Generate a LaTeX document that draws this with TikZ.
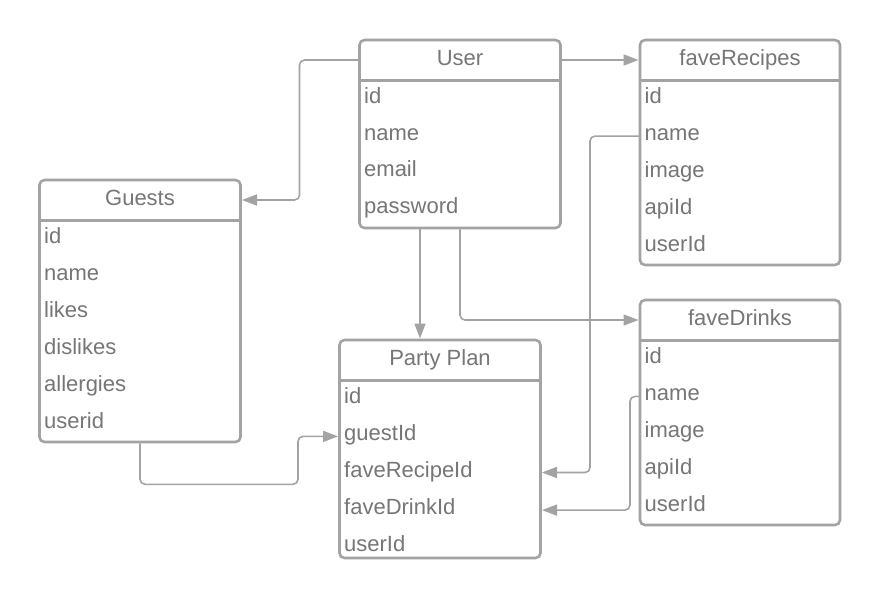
\documentclass[tikz,border=0pt]{standalone}
\usepackage{fontspec}
\setmainfont{Liberation Sans}
\usetikzlibrary{arrows.meta}
\definecolor{linegray}{HTML}{A3A3A3}
\definecolor{textgray}{HTML}{767676}
\begin{document}
\begin{tikzpicture}[x=1pt,y=-1pt,
  tbl/.style={draw=linegray, line width=2.6pt, rounded corners=5pt, inner sep=0pt, outer sep=0pt, anchor=north west},
  sepline/.style={draw=linegray, line width=2.6pt},
  rowtxt/.style={text=textgray, inner sep=0pt, anchor=base west, font=\fontsize{22}{26}\selectfont},
  headtxt/.style={text=textgray, inner sep=0pt, anchor=base, font=\fontsize{22}{26}\selectfont},
  conn/.style={draw=linegray, line width=1.6pt, rounded corners=5pt, -{Triangle[length=15pt,width=11pt]}}]
\fill[white] (0,0) rectangle (880,605);
\useasboundingbox (0,0) rectangle (880,605);

% ---------- User ----------
\node[tbl, minimum width=201pt, minimum height=188pt] (user) at (359.5,40) {};
\draw[sepline] ([yshift=-40.7pt]user.north west) -- ([yshift=-40.7pt]user.north east);
\node[headtxt] (user-h) at (460,65) {User};
\node[rowtxt] (user-id) at (364,103.3) {id};
\node[rowtxt] (user-name) at (364,140) {name};
\node[rowtxt] (user-email) at (364,176.8) {email};
\node[rowtxt] (user-pw) at (364,213.5) {password};

% ---------- Guests ----------
\node[tbl, minimum width=201pt, minimum height=262pt] (guests) at (39.5,180) {};
\draw[sepline] ([yshift=-40.7pt]guests.north west) -- ([yshift=-40.7pt]guests.north east);
\node[headtxt] (guests-h) at (140,205) {Guests};
\node[rowtxt] (guests-id) at (44,243.3) {id};
\node[rowtxt] (guests-name) at (44,280.3) {name};
\node[rowtxt] (guests-likes) at (44,317.3) {likes};
\node[rowtxt] (guests-dislikes) at (44,354.3) {dislikes};
\node[rowtxt] (guests-all) at (44,391.3) {allergies};
\node[rowtxt] (guests-uid) at (44,428.3) {userid};

% ---------- Party Plan ----------
\node[tbl, minimum width=201pt, minimum height=218pt] (party) at (339.5,340) {};
\draw[sepline] ([yshift=-40.7pt]party.north west) -- ([yshift=-40.7pt]party.north east);
\node[headtxt] (party-h) at (440,365) {Party Plan};
\node[rowtxt] (party-id) at (344,403.3) {id};
\node[rowtxt] (party-gid) at (344,440.4) {guestId};
\node[rowtxt] (party-frid) at (344,477.5) {faveRecipeId};
\node[rowtxt] (party-fdid) at (344,514.6) {faveDrinkId};
\node[rowtxt] (party-uid) at (344,551.7) {userId};

% ---------- faveRecipes ----------
\node[tbl, minimum width=200pt, minimum height=225pt] (recipes) at (640,40) {};
\draw[sepline] ([yshift=-40.7pt]recipes.north west) -- ([yshift=-40.7pt]recipes.north east);
\node[headtxt] (recipes-h) at (740,65) {faveRecipes};
\node[rowtxt] (recipes-id) at (644.5,103.3) {id};
\node[rowtxt] (recipes-name) at (644.5,140.4) {name};
\node[rowtxt] (recipes-image) at (644.5,177.5) {image};
\node[rowtxt] (recipes-api) at (644.5,214.6) {apiId};
\node[rowtxt] (recipes-uid) at (644.5,251.7) {userId};

% ---------- faveDrinks ----------
\node[tbl, minimum width=200pt, minimum height=225pt] (drinks) at (640,300) {};
\draw[sepline] ([yshift=-40.7pt]drinks.north west) -- ([yshift=-40.7pt]drinks.north east);
\node[headtxt] (drinks-h) at (740,325) {faveDrinks};
\node[rowtxt] (drinks-id) at (644.5,363.3) {id};
\node[rowtxt] (drinks-name) at (644.5,400.4) {name};
\node[rowtxt] (drinks-image) at (644.5,437.5) {image};
\node[rowtxt] (drinks-api) at (644.5,474.6) {apiId};
\node[rowtxt] (drinks-uid) at (644.5,511.7) {userId};

% ---------- ports ----------
\coordinate (user-hl) at ([yshift=-20pt]user.north west);
\coordinate (user-hr) at ([yshift=-20pt,xshift=1.3pt]user.north east);
\coordinate (guests-hr) at ([yshift=-20pt,xshift=1.5pt]guests.north east);
\coordinate (recipes-hl) at ([yshift=-20pt,xshift=-1.5pt]recipes.north west);
\coordinate (drinks-hl) at ([yshift=-20pt,xshift=-1.5pt]drinks.north west);
\coordinate (user-b1) at ([xshift=-40pt,yshift=-1.3pt]user.south);
\coordinate (user-b2) at ([yshift=-1.3pt]user.south);
\coordinate (party-top) at ([xshift=-20pt,yshift=1.5pt]party.north);
\coordinate (recipes-nport) at ([yshift=4.3pt]recipes-name.base -| recipes.west);
\coordinate (drinks-nport) at ([yshift=4pt]drinks-name.base -| drinks.west);
\coordinate (party-frport) at ([yshift=5pt,xshift=1.5pt]party-frid.base -| party.east);
\coordinate (party-fdport) at ([yshift=4.5pt,xshift=1.5pt]party-fdid.base -| party.east);
\coordinate (party-gport) at ([yshift=4pt,xshift=-1.5pt]party-gid.base -| party.west);
\coordinate (guests-b) at ([yshift=-1.3pt]guests.south);

% ---------- connectors ----------
\draw[conn] (user-hl) -- ++(-60,0) |- (guests-hr);
\draw[conn] (user-hr) -- (recipes-hl);
\draw[conn] (user-b1) -- (user-b1 |- party-top);
\draw[conn] (user-b2) |- (drinks-hl);
\draw[conn] (recipes-nport) -- ++(-50,0) |- (party-frport);
\draw[conn] (drinks-nport) -- ++(-10,0) |- (party-fdport);
\draw[conn] (guests-b) -- ++(0,41) -| ([xshift=-40pt]party-gport) -- (party-gport);
\end{tikzpicture}
\end{document}
